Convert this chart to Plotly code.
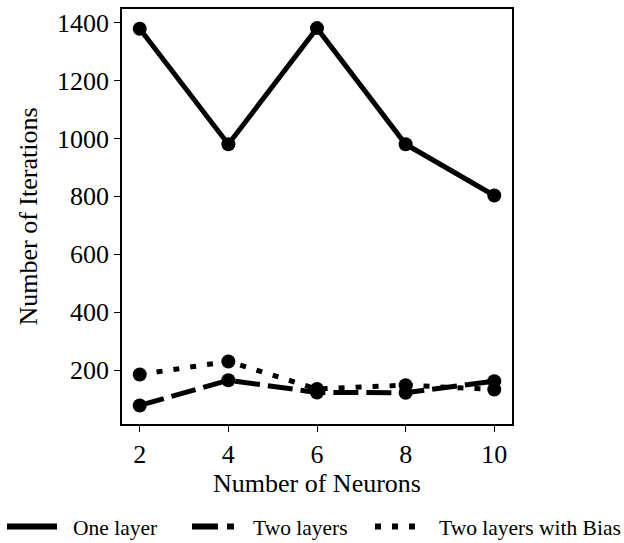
import plotly.graph_objects as go

neurons = [2, 4, 6, 8, 10]
one_layer = [1379, 980, 1381, 980, 803]
two_layers = [78, 165, 123, 122, 162]
two_layers_bias = [185, 230, 135, 148, 133]
x_ticks = [2, 4, 6, 8, 10]
y_ticks = [200, 400, 600, 800, 1000, 1200, 1400]
series_names = ["One layer", "Two layers", "Two layers with Bias"]

FONT = "Liberation Serif"
W, H = 624, 543
L, R, T, B = 122, 112, 7, 119
PW, PH = W - L - R, H - T - B

def px_x(px):
    return (px - L) / PW

def px_y(py):
    return (H - B - py) / PH

dashes = ["solid", "25px,8px", "6px,11px"]
fig = go.Figure()
for name, vals, dash in zip(series_names, [one_layer, two_layers, two_layers_bias], dashes):
    fig.add_trace(go.Scatter(
        x=neurons, y=vals, name=name, mode="lines+markers",
        line=dict(color="black", width=5, dash=dash),
        marker=dict(color="black", size=14),
        showlegend=False,
    ))

# manual legend (single row below the plot)
leg_y = 527
sample_x = [(7, 57), (192, 234), (375, 415)]
text_x = [71, 251, 437]
leg_dash = ["solid", "26px,9px", "6px,11px"]
for (x0, x1), tx, name, dash in zip(sample_x, text_x, series_names, leg_dash):
    fig.add_shape(type="line", xref="paper", yref="paper",
                  x0=px_x(x0), x1=px_x(x1), y0=px_y(leg_y), y1=px_y(leg_y),
                  line=dict(color="black", width=6, dash=dash))
    fig.add_annotation(xref="paper", yref="paper", x=px_x(tx), y=px_y(leg_y + 1),
                       text=name, showarrow=False, xanchor="left", yanchor="middle",
                       font=dict(family=FONT, size=21.5, color="black"))

fig.update_layout(
    width=W, height=H,
    margin=dict(l=L, r=R, t=T, b=B),
    paper_bgcolor="white", plot_bgcolor="white",
    font=dict(family=FONT, size=26, color="black"),
    showlegend=False,
)
fig.update_xaxes(
    range=[1.6, 10.4], tickvals=x_ticks, ticks="outside", ticklen=6,
    tickwidth=1.2, tickcolor="black", showgrid=False, zeroline=False,
    showline=True, linecolor="black", linewidth=1.5, mirror=True,
    title=dict(text="Number of Neurons", font=dict(family=FONT, size=26), standoff=4),
    tickfont=dict(family=FONT, size=26),
)
fig.update_yaxes(
    range=[14, 1447], tickvals=y_ticks, ticks="outside", ticklen=6,
    tickwidth=1.2, tickcolor="black", showgrid=False, zeroline=False,
    showline=True, linecolor="black", linewidth=1.5, mirror=True,
    title=dict(text="Number of Iterations", font=dict(family=FONT, size=26), standoff=12),
    tickfont=dict(family=FONT, size=26),
)

fig.write_html("out.html")
